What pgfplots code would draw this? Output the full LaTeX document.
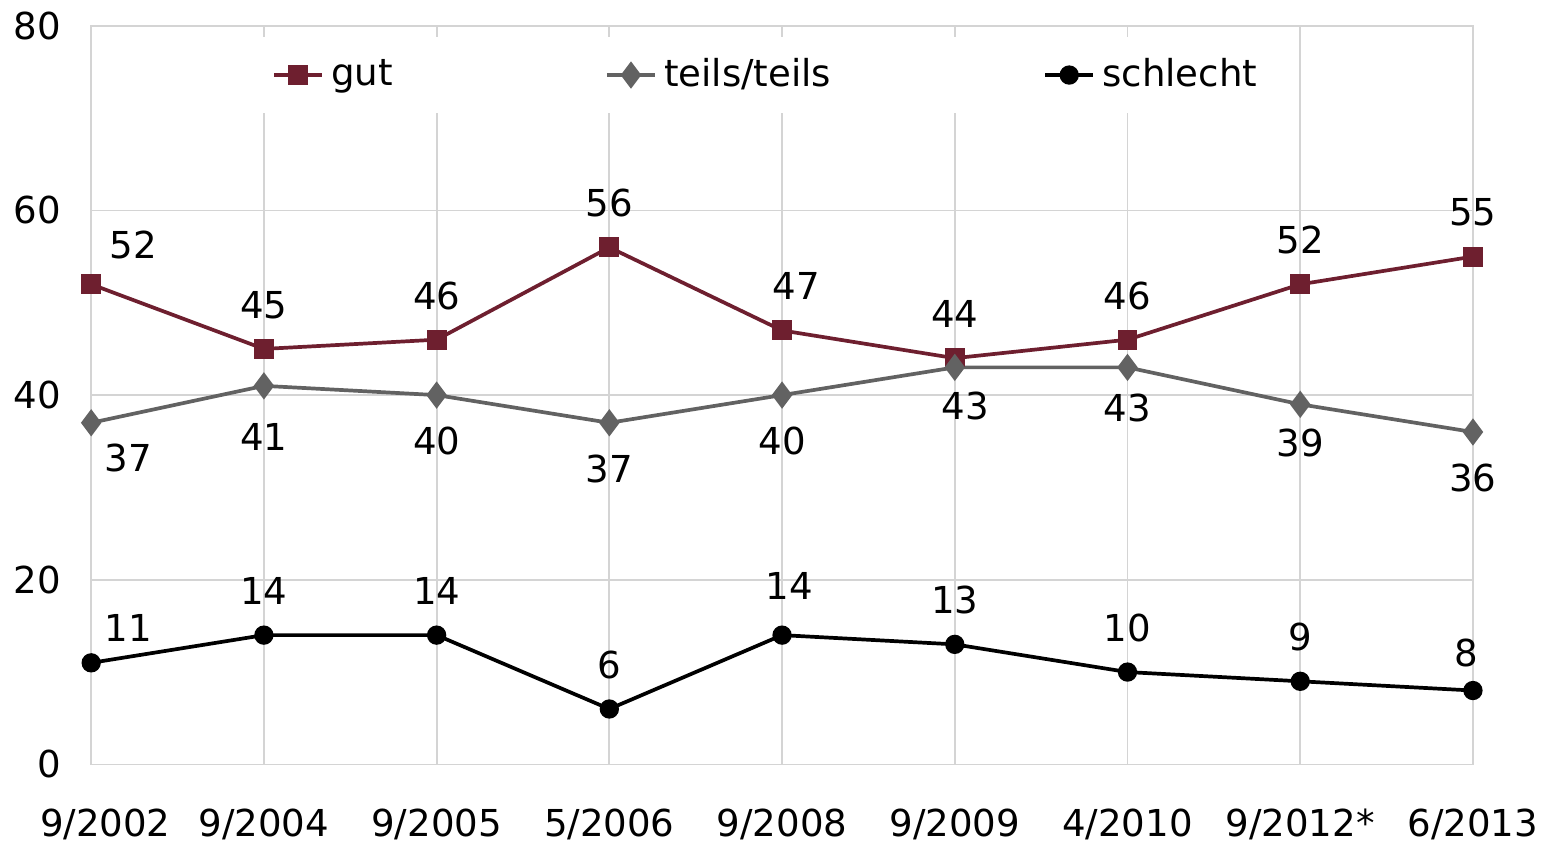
\documentclass[border=0pt]{standalone}
\usepackage{fontspec}
\setmainfont{DejaVu Sans}
\usepackage{pgfplots}
\pgfplotsset{compat=1.18}

\definecolor{gutred}{HTML}{6E1F2F}
\definecolor{teilsgray}{HTML}{626262}
\definecolor{gridgray}{HTML}{D4D4D4}

\begin{document}
\begin{tikzpicture}
\begin{axis}[
    scale only axis,
    width=391pt, height=209pt,
    xmin=0, xmax=8, ymin=0, ymax=80,
    xtick={0,...,8},
    xticklabels={\hspace*{8pt}9/2002,9/2004,9/2005,5/2006,9/2008,9/2009,4/2010,9/2012*,6/2013},
    ytick={0,20,40,60,80},
    grid=major,
    major grid style={gridgray, line width=0.5pt},
    axis line style={gridgray, line width=0.5pt},
    tick style={draw=none},
    font=\fontsize{10.5}{12}\selectfont,
    xticklabel style={yshift=-9pt},
    yticklabel style={xshift=-5pt},
    /pgf/number format/assume math mode=true,
    clip=false,
    legend columns=3,
    legend style={at={(0.49,1)}, anchor=north, yshift=-3pt, draw=none, fill=white,
        inner sep=4pt,
        /tikz/every even column/.append style={column sep=58pt}},
    legend image code/.code={
        \draw[mark repeat=2,mark phase=2] plot coordinates {(0cm,0cm) (0.24cm,0cm) (0.48cm,0cm)};
    },
    nodes near coords,
    every node near coord/.append style={black, anchor=center, font=\fontsize{10.5}{12}\selectfont},
    point meta=explicit symbolic,
]
\addplot[gutred, line width=1.05pt, mark=square*, mark size=2.3pt,
    every node near coord/.append style={yshift=12.5pt},
    coordinate style/.condition={\coordindex==0}{xshift=12pt, yshift=-1.5pt},
    coordinate style/.condition={\coordindex==4}{xshift=4pt}]
    coordinates {(0,52)[52] (1,45)[45] (2,46)[46] (3,56)[56] (4,47)[47] (5,44)[44] (6,46)[46] (7,52)[52] (8,55)[55]};
\addlegendentry{gut}
\addplot[teilsgray, line width=1.05pt, mark=diamond*, mark size=3pt,
    every node near coord/.append style={yshift=-13pt},
    coordinate style/.condition={\coordindex==0}{xshift=10.5pt, yshift=3pt},
    coordinate style/.condition={\coordindex==1}{yshift=-1.5pt},
    coordinate style/.condition={\coordindex==5}{xshift=3pt, yshift=2pt},
    coordinate style/.condition={\coordindex==6}{yshift=1.5pt},
    coordinate style/.condition={\coordindex==7}{yshift=2pt}]
    coordinates {(0,37)[37] (1,41)[41] (2,40)[40] (3,37)[37] (4,40)[40] (5,43)[43] (6,43)[43] (7,39)[39] (8,36)[36]};
\addlegendentry{teils/teils}
\addplot[black, line width=1.05pt, mark=*, mark size=2.2pt,
    every node near coord/.append style={yshift=12.5pt},
    coordinate style/.condition={\coordindex==0}{xshift=10.5pt, yshift=-2.5pt},
    coordinate style/.condition={\coordindex==4}{xshift=2pt, yshift=1.5pt},
    coordinate style/.condition={\coordindex==8}{xshift=-2pt, yshift=-2pt}]
    coordinates {(0,11)[11] (1,14)[14] (2,14)[14] (3,6)[6] (4,14)[14] (5,13)[13] (6,10)[10] (7,9)[9] (8,8)[8]};
\addlegendentry{schlecht}
\end{axis}
\end{tikzpicture}
\end{document}
